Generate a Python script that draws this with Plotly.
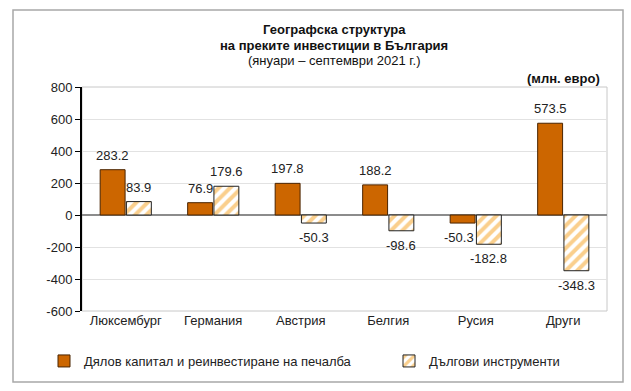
import plotly.graph_objects as go

categories = ["Люксембург", "Германия", "Австрия", "Белгия", "Русия", "Други"]
equity = [283.2, 76.9, 197.8, 188.2, -50.3, 573.5]
debt = [83.9, 179.6, -50.3, -98.6, -182.8, -348.3]
series_names = ["Дялов капитал и реинвестиране на печалба", "Дългови инструменти"]
tick_vals = [800, 600, 400, 200, 0, -200, -400, -600]
tick_text = ["800", "600", "400", "200", "0", "-200", "-400", "-600"]

FONT = "Liberation Sans, Arial, sans-serif"
W, H = 631, 391
L, R, T, B = 82, 24, 87, 80
pw, ph = W - L - R, H - T - B


def px(x):
    return (x - L) / pw


def py(y):
    return (H - B - y) / ph


fig = go.Figure()
fig.add_bar(
    x=categories, y=equity, name=series_names[0],
    marker=dict(color="#CC6600", line=dict(color="#4a2400", width=1)),
    legendwidth=300,
)
fig.add_bar(
    x=categories, y=debt, name=series_names[1],
    marker=dict(color="white", line=dict(color="#222", width=1),
                pattern=dict(shape="/", fgcolor="#F5A01C", bgcolor="white",
                             size=8, solidity=0.5, fillmode="overlay")),
)

# data labels placed beyond bar ends
slot = pw / len(categories) * (1 - 0.4) / 2
for series, sign in ((equity, -1), (debt, 1)):
    for cat, v in zip(categories, series):
        xs = sign * slot / 2
        if cat == "Русия" and sign == -1:
            xs -= 4
        fig.add_annotation(
            x=cat, y=v, xref="x", yref="y", text=f"{v:.1f}", showarrow=False,
            xshift=xs, yshift=(5 if v >= 0 else -5),
            yanchor=("bottom" if v >= 0 else "top"), xanchor="center",
            font=dict(family=FONT, size=13, color="#222"),
        )

fig.update_layout(
    width=W, height=H,
    margin=dict(l=L, r=R, t=T, b=B, autoexpand=False),
    paper_bgcolor="white", plot_bgcolor="white",
    barmode="group", bargap=0.4, bargroupgap=0.05,
    font=dict(family=FONT, size=13, color="#222"),
    showlegend=True,
    legend=dict(orientation="h", xref="container", yref="container",
                x=44 / W, y=(H - 361) / H, yanchor="middle", xanchor="left",
                font=dict(family=FONT, size=13, color="#222"),
                bgcolor="rgba(0,0,0,0)"),
    yaxis=dict(range=[-600, 800], tickvals=tick_vals, ticktext=tick_text,
               ticks="outside", ticklen=5,
               tickcolor="#000", showline=True, linecolor="#000", linewidth=2,
               showgrid=True, gridcolor="#e2e2e2", gridwidth=1,
               zeroline=True, zerolinecolor="#8c8c8c", zerolinewidth=2,
               tickfont=dict(family=FONT, size=13, color="#222"), automargin=False),
    xaxis=dict(showline=False, ticks="", automargin=False,
               tickfont=dict(family=FONT, size=13, color="#222")),
)

# plot-area frame (light gray)
fig.add_shape(type="rect", xref="paper", yref="paper", x0=0, x1=1, y0=0, y1=1,
              line=dict(color="#c8c8c8", width=1), layer="below")
# outer chart border
fig.add_shape(type="rect", xref="paper", yref="paper",
              x0=px(13), x1=px(623), y0=py(382), y1=py(10),
              line=dict(color="#a8a8a8", width=1.5))

titles = [("<b>Географска структура</b>", 29), ("<b>на преките инвестиции в България</b>", 45),
          ("(януари – септември 2021 г.)", 61)]
for txt, yy in titles:
    fig.add_annotation(text=txt, xref="paper", yref="paper", x=px(334), y=py(yy),
                       showarrow=False, xanchor="center", yanchor="middle",
                       font=dict(family=FONT, size=13, color="#111"))
fig.add_annotation(text="<b>(млн. евро)</b>", xref="paper", yref="paper", x=px(602), y=py(78),
                   showarrow=False, xanchor="right", yanchor="middle",
                   font=dict(family=FONT, size=13, color="#111"))

fig.write_html("out.html", config={"displayModeBar": False},
               post_script="document.body.style.margin='0';document.body.style.padding='0';")
